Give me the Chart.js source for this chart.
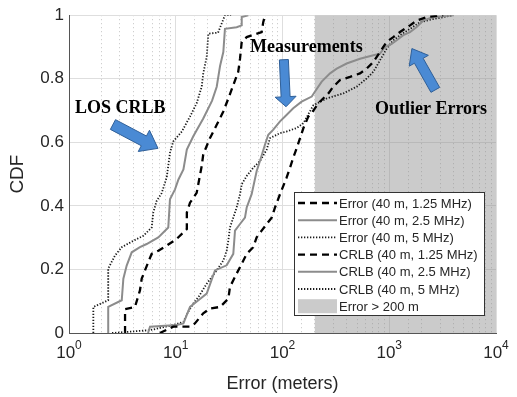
<!DOCTYPE html>
<html>
<head>
<meta charset="utf-8">
<script src="https://cdn.jsdelivr.net/npm/chart.js@4/dist/chart.umd.min.js"></script>
<style>
  html, body { margin: 0; padding: 0; background: #fff; }
  #wrap { width: 517px; height: 397px; }
</style>
</head>
<body>
<div id="wrap"><canvas id="cdfChart" width="517" height="397"></canvas></div>
<script>
// Axis ticks
const xTicks = [1, 10, 100, 1000, 10000];
const yTicks = [0, 0.2, 0.4, 0.6, 0.8, 1];

// Legend labels (same order as the datasets below)
const seriesLabels = [
    'Error (40 m, 1.25 MHz)',
    'Error (40 m, 2.5 MHz)',
    'Error (40 m, 5 MHz)',
    'CRLB (40 m, 1.25 MHz)',
    'CRLB (40 m, 2.5 MHz)',
    'CRLB (40 m, 5 MHz)',
    'Error > 200 m'
];

// Measured error CDFs (x = error in meters, y = CDF)
const err125X = [7.1, 9.48, 13.6, 15.1, 18.1, 20.9, 26, 31.1, 32.2, 37.2, 43, 46.2, 53.2, 57.3, 63.8, 71.1, 79.2, 85.1, 94.8, 109, 117.6, 126, 136, 146, 157, 174.5, 188, 201, 224, 269, 299, 346, 429, 532, 615, 710, 819, 946, 1091, 1261, 1565, 1807, 2244, 3208];
const err125Y = [0, 0.02, 0.02, 0.03, 0.062, 0.077, 0.082, 0.108, 0.145, 0.187, 0.228, 0.249, 0.27, 0.301, 0.322, 0.343, 0.363, 0.395, 0.437, 0.488, 0.52, 0.551, 0.582, 0.613, 0.645, 0.681, 0.692, 0.707, 0.728, 0.754, 0.775, 0.796, 0.806, 0.817, 0.832, 0.853, 0.884, 0.916, 0.931, 0.947, 0.968, 0.983, 0.994, 1.0];

const err25X = [5.5, 5.74, 10.2, 11.8, 13.6, 16.3, 19.5, 23.3, 30, 34.6, 35.9, 40, 44.5, 46.2, 51.4, 57.3, 61.5, 68.6, 73.6, 82, 94.8, 105.5, 126, 151, 188, 201, 233, 279, 322, 399, 532, 710, 819, 912, 1054, 1175, 1355, 1565, 1807, 2084, 2587, 3981];
const err25Y = [0, 0.02, 0.025, 0.03, 0.082, 0.103, 0.124, 0.197, 0.213, 0.249, 0.322, 0.343, 0.363, 0.395, 0.437, 0.51, 0.541, 0.593, 0.624, 0.64, 0.666, 0.681, 0.707, 0.728, 0.744, 0.759, 0.791, 0.817, 0.832, 0.848, 0.863, 0.874, 0.879, 0.9, 0.91, 0.921, 0.937, 0.947, 0.963, 0.983, 0.994, 1.0];

const err5X = [2.53, 5.74, 9.48, 11.8, 13.1, 14.6, 16.3, 19.5, 24.2, 27.9, 30, 31.1, 32.2, 34.6, 37.2, 40, 41.5, 46.2, 53.2, 61.5, 71.1, 76.4, 94.8, 109, 136, 157, 194, 259, 372, 495, 615, 710, 819, 946, 1091, 1261, 1565, 1941, 2587, 3981];
const err5Y = [0, 0.009, 0.025, 0.035, 0.067, 0.093, 0.113, 0.155, 0.197, 0.228, 0.259, 0.291, 0.332, 0.363, 0.395, 0.437, 0.468, 0.494, 0.52, 0.541, 0.577, 0.613, 0.629, 0.634, 0.645, 0.66, 0.716, 0.738, 0.754, 0.775, 0.801, 0.822, 0.858, 0.895, 0.921, 0.937, 0.957, 0.978, 0.988, 1.0];

// LOS CRLB CDFs
const crlb125X = [3.35, 3.35, 4.15, 4.62, 4.8, 5.53, 5.95, 6.87, 8.23, 10.2, 12.7, 12.7, 13.6, 15.7, 17.5, 18.1, 20.9, 24.2, 27.9, 31.1, 34.6, 38.5, 40, 41.5, 46.2, 55.3, 63.8, 66, 68.6];
const crlb125Y = [0, 0.075, 0.082, 0.134, 0.171, 0.223, 0.249, 0.259, 0.275, 0.296, 0.327, 0.379, 0.41, 0.441, 0.525, 0.562, 0.613, 0.655, 0.697, 0.738, 0.78, 0.822, 0.863, 0.916, 0.931, 0.94, 0.947, 0.978, 1.0];

const crlb25X = [2.33, 2.33, 3.12, 3.23, 3.47, 3.87, 4.62, 5.34, 6.86, 8.51, 8.83, 9.84, 10.6, 11.8, 12.7, 14.6, 18.1, 21.9, 24.2, 26, 27.9, 28.9, 37.2, 41.5, 41.5, 47.8];
const crlb25Y = [0, 0.082, 0.103, 0.171, 0.212, 0.254, 0.27, 0.28, 0.301, 0.332, 0.421, 0.452, 0.483, 0.515, 0.577, 0.619, 0.675, 0.731, 0.775, 0.84, 0.884, 0.957, 0.962, 0.968, 0.994, 1.0];

const crlb5X = [1.69, 1.69, 2.33, 2.33, 2.70, 3.12, 4.0, 4.97, 5.95, 6.16, 6.63, 7.38, 8.23, 8.83, 9.48, 11.4, 13.6, 15.7, 17.5, 18.1, 19.5, 20.2, 24.9, 28.9, 33];
const crlb5Y = [0, 0.082, 0.103, 0.203, 0.244, 0.27, 0.29, 0.306, 0.332, 0.379, 0.416, 0.44, 0.49, 0.567, 0.603, 0.634, 0.681, 0.723, 0.775, 0.817, 0.869, 0.942, 0.945, 1.0, 1.0];

// Shaded outlier region (error > 200 m)
const shadeX = [200, 10000];
const shadeY = [1, 1];

// Text annotations with arrows, in data coordinates
const notes = [
    { text: 'LOS CRLB', tx: 1.14, ty: 0.706, ax: [2.58, 0.656], bx: [6.82, 0.581], shaft: 11, headW: 24, headL: 16 },
    { text: 'Measurements', tx: 49.6, ty: 0.90, ax: [103, 0.86], bx: [108, 0.712], shaft: 9, headW: 21, headL: 10 },
    { text: 'Outlier Errors', tx: 735, ty: 0.703, ax: [2700, 0.765], bx: [1630, 0.895], shaft: 10, headW: 22, headL: 14 }
];

const toPoints = (xs, ys) => xs.map((x, i) => ({ x: x, y: ys[i] }));

const DASH = [7, 5];
const DOT = [1.3, 1.7];
const GRAY = '#8c8c8c';

function lineSet(label, xs, ys, color, width, dash) {
    return {
        label: label,
        data: toPoints(xs, ys),
        borderColor: color,
        backgroundColor: color,
        borderWidth: width,
        borderDash: dash,
        pointRadius: 0,
        tension: 0,
        fill: false
    };
}

function drawBlockArrow(ctx, x1, y1, x2, y2, shaft, headW, headL) {
    const dx = x2 - x1, dy = y2 - y1;
    const len = Math.hypot(dx, dy);
    const ux = dx / len, uy = dy / len;
    const nx = -uy, ny = ux;
    const bx = x2 - ux * headL, by = y2 - uy * headL;
    ctx.beginPath();
    ctx.moveTo(x1 + nx * shaft / 2, y1 + ny * shaft / 2);
    ctx.lineTo(bx + nx * shaft / 2, by + ny * shaft / 2);
    ctx.lineTo(bx + nx * headW / 2, by + ny * headW / 2);
    ctx.lineTo(x2, y2);
    ctx.lineTo(bx - nx * headW / 2, by - ny * headW / 2);
    ctx.lineTo(bx - nx * shaft / 2, by - ny * shaft / 2);
    ctx.lineTo(x1 - nx * shaft / 2, y1 - ny * shaft / 2);
    ctx.closePath();
    ctx.fillStyle = '#4a8ad4';
    ctx.fill();
    ctx.strokeStyle = '#2f5f98';
    ctx.lineWidth = 1;
    ctx.stroke();
}

// Draws x tick labels as 10 with a superscript exponent
const powerTicks = {
    id: 'powerTicks',
    afterDraw(chart) {
        const ctx = chart.ctx;
        const xs = chart.scales.x;
        ctx.save();
        ctx.fillStyle = '#262626';
        ctx.textBaseline = 'alphabetic';
        xTicks.forEach(v => {
            const px = xs.getPixelForValue(v);
            const exp = String(Math.round(Math.log10(v)));
            ctx.font = '17px "Liberation Sans", Arial, sans-serif';
            const wBase = ctx.measureText('10').width;
            ctx.font = '12px "Liberation Sans", Arial, sans-serif';
            const wExp = ctx.measureText(exp).width;
            const left = px - (wBase + wExp) / 2;
            ctx.font = '17px "Liberation Sans", Arial, sans-serif';
            ctx.textAlign = 'left';
            ctx.fillText('10', left, chart.chartArea.bottom + 25);
            ctx.font = '12px "Liberation Sans", Arial, sans-serif';
            ctx.fillText(exp, left + wBase, chart.chartArea.bottom + 16);
        });
        ctx.restore();
    }
};

// Annotations and boxed legend inside the plot
const overlay = {
    id: 'overlay',
    afterDraw(chart) {
        const ctx = chart.ctx;
        const xs = chart.scales.x, ys = chart.scales.y;
        const area = chart.chartArea;
        ctx.save();

        notes.forEach(n => {
            drawBlockArrow(ctx,
                xs.getPixelForValue(n.ax[0]), ys.getPixelForValue(n.ax[1]),
                xs.getPixelForValue(n.bx[0]), ys.getPixelForValue(n.bx[1]),
                n.shaft, n.headW, n.headL);
            ctx.font = 'bold 18px "Liberation Serif", "Times New Roman", serif';
            ctx.fillStyle = '#000';
            ctx.textAlign = 'left';
            ctx.textBaseline = 'middle';
            ctx.fillText(n.text, xs.getPixelForValue(n.tx), ys.getPixelForValue(n.ty));
        });

        // legend box
        const boxW = 190, boxH = 123;
        const bx = area.right - 12 - boxW;
        const by = area.bottom - 18 - boxH;
        ctx.fillStyle = '#fff';
        ctx.fillRect(bx, by, boxW, boxH);
        ctx.strokeStyle = '#333';
        ctx.lineWidth = 1;
        ctx.strokeRect(bx + 0.5, by + 0.5, boxW, boxH);

        const rowH = 17.2;
        ctx.font = '13px "Liberation Sans", Arial, sans-serif';
        ctx.textBaseline = 'middle';
        chart.data.datasets.forEach((ds, i) => {
            const cy = by + 11 + i * rowH;
            const x1 = bx + 4, x2 = bx + 43;
            if (ds.fill) {
                ctx.fillStyle = ds.backgroundColor;
                ctx.fillRect(x1, cy - 7, x2 - x1, 14);
            } else {
                ctx.beginPath();
                ctx.setLineDash(ds.borderDash || []);
                ctx.strokeStyle = ds.borderColor;
                ctx.lineWidth = ds.borderWidth;
                ctx.moveTo(x1, cy);
                ctx.lineTo(x2, cy);
                ctx.stroke();
                ctx.setLineDash([]);
            }
            ctx.fillStyle = '#262626';
            ctx.fillText(ds.label, bx + 45, cy + 1);
        });
        ctx.restore();
    }
};

const isDecade = v => Math.abs(Math.log10(v) - Math.round(Math.log10(v))) < 1e-6;

const chart = new Chart(document.getElementById('cdfChart').getContext('2d'), {
    type: 'line',
    data: {
        datasets: [
            lineSet(seriesLabels[0], err125X, err125Y, '#000', 2.3, DASH),
            lineSet(seriesLabels[1], err25X, err25Y, GRAY, 2, []),
            lineSet(seriesLabels[2], err5X, err5Y, '#1a1a1a', 1.8, DOT),
            lineSet(seriesLabels[3], crlb125X, crlb125Y, '#000', 2.3, DASH),
            lineSet(seriesLabels[4], crlb25X, crlb25Y, GRAY, 2, []),
            lineSet(seriesLabels[5], crlb5X, crlb5Y, '#1a1a1a', 1.8, DOT),
            {
                label: seriesLabels[6],
                data: toPoints(shadeX, shadeY),
                borderWidth: 0,
                borderColor: 'rgba(0,0,0,0)',
                backgroundColor: 'rgba(140,140,140,0.45)',
                pointRadius: 0,
                fill: 'origin'
            }
        ]
    },
    options: {
        responsive: false,
        animation: false,
        layout: {
            padding: { left: 0, top: 12, right: 21, bottom: 0 }
        },
        plugins: {
            legend: { display: false },
            tooltip: { enabled: false }
        },
        scales: {
            x: {
                type: 'logarithmic',
                min: 1,
                max: 10000,
                afterFit: scale => { scale.height = 64; },
                ticks: { display: false, autoSkip: false },
                grid: {
                    drawTicks: false,
                    color: ctx => (ctx.tick && isDecade(ctx.tick.value)) ? '#dedede' : '#c4c4c4'
                },
                border: {
                    display: true,
                    color: '#555',
                    width: 1,
                    dash: ctx => (ctx.tick && isDecade(ctx.tick.value)) ? [] : [1, 3]
                },
                title: {
                    display: true,
                    text: 'Error (meters)',
                    color: '#262626',
                    font: { family: '"Liberation Sans", Arial, sans-serif', size: 18 },
                    padding: { top: 0, bottom: 2 }
                }
            },
            y: {
                min: 0,
                max: 1,
                afterFit: scale => { scale.width = 69; },
                afterBuildTicks: scale => { scale.ticks = yTicks.map(v => ({ value: v })); },
                ticks: {
                    color: '#262626',
                    padding: 5,
                    font: { family: '"Liberation Sans", Arial, sans-serif', size: 17 },
                    callback: v => String(Number(v.toFixed(1)))
                },
                grid: { drawTicks: false, color: '#dedede' },
                border: { display: true, color: '#555', width: 1 },
                title: {
                    display: true,
                    text: 'CDF',
                    color: '#262626',
                    font: { family: '"Liberation Sans", Arial, sans-serif', size: 19 },
                    padding: { top: 6, bottom: 4 }
                }
            }
        }
    },
    plugins: [powerTicks, overlay]
});
</script>
</body>
</html>
